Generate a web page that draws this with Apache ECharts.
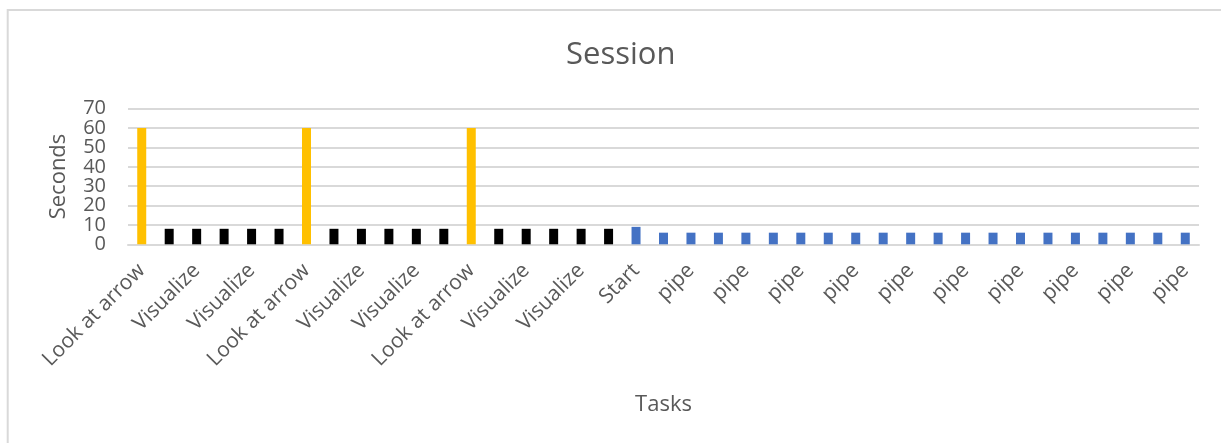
<!DOCTYPE html>
<html>
<head>
<meta charset="utf-8">
<script src="https://cdn.jsdelivr.net/npm/echarts@6/dist/echarts.min.js"></script>
<style>
  html, body { margin: 0; padding: 0; background: #ffffff; }
  #chart { width: 1221px; height: 443px; }
</style>
</head>
<body>
<div id="chart"></div>
<script>
// Task sequence of one session, in order
const tasks = [
  'Look at arrow', 'Visualize', 'Visualize', 'Visualize', 'Visualize', 'Visualize',
  'Look at arrow', 'Visualize', 'Visualize', 'Visualize', 'Visualize', 'Visualize',
  'Look at arrow', 'Visualize', 'Visualize', 'Visualize', 'Visualize', 'Visualize',
  'Start',
  'pipe', 'pipe', 'pipe', 'pipe', 'pipe', 'pipe', 'pipe', 'pipe', 'pipe', 'pipe',
  'pipe', 'pipe', 'pipe', 'pipe', 'pipe', 'pipe', 'pipe', 'pipe', 'pipe', 'pipe'
];

// Duration of each task in seconds
const seconds = [
  60, 8, 8, 8, 8, 8,
  60, 8, 8, 8, 8, 8,
  60, 8, 8, 8, 8, 8,
  9,
  6, 6, 6, 6, 6, 6, 6, 6, 6, 6,
  6, 6, 6, 6, 6, 6, 6, 6, 6, 6
];

// Value axis ticks
const yTicks = { min: 0, max: 70, step: 10 };

// Bar colour by task type
const taskColors = {
  'Look at arrow': '#FFC000',
  'Visualize': '#000000',
  'Start': '#4472C4',
  'pipe': '#4472C4'
};

const FONT = '"Open Sans", "Noto Sans", sans-serif';
const TEXT = '#595959';
const GRID = '#d9d9d9';

const isEnd = v => v === yTicks.min || v === yTicks.max;
const tickLabelStyle = { margin: 22, fontFamily: FONT, fontSize: 20, color: TEXT };

const chart = echarts.init(document.getElementById('chart'), null, { renderer: 'canvas' });

chart.setOption({
  backgroundColor: '#ffffff',
  animation: false,
  graphic: [{
    type: 'rect',
    silent: true,
    shape: { x: 7.7, y: 10, width: 1400, height: 600 },
    style: { fill: 'none', stroke: GRID, lineWidth: 2 }
  }],
  title: {
    text: 'Session',
    left: 561,
    top: 35,
    textStyle: { fontFamily: FONT, fontSize: 31, fontWeight: 'normal', color: TEXT }
  },
  grid: { left: 128, right: 22, top: 108.7, bottom: 198.7, containLabel: false },
  xAxis: {
    type: 'category',
    data: tasks,
    name: 'Tasks',
    nameLocation: 'middle',
    nameGap: 149,
    nameTextStyle: { fontFamily: FONT, fontSize: 22, color: TEXT },
    axisLine: { show: true, lineStyle: { color: GRID, width: 2 } },
    axisTick: { show: false },
    axisLabel: {
      interval: 1,
      rotate: 45,
      margin: 23,
      fontFamily: FONT,
      fontSize: 21,
      color: TEXT
    }
  },
  yAxis: [{
    // main value axis: grid lines, title and the inner tick labels
    type: 'value',
    min: yTicks.min,
    max: yTicks.max,
    interval: yTicks.step,
    name: 'Seconds',
    nameLocation: 'middle',
    nameRotate: 90,
    nameGap: 58,
    nameTextStyle: { fontFamily: FONT, fontSize: 22, color: TEXT },
    axisLine: { show: false },
    axisTick: { show: false },
    axisLabel: Object.assign({}, tickLabelStyle, {
      formatter: v => (isEnd(v) ? '' : String(v))
    }),
    splitLine: { lineStyle: { color: GRID, width: 2 } }
  }, {
    // same scale, carries the 0 and 70 labels
    type: 'value',
    position: 'left',
    min: yTicks.min,
    max: yTicks.max,
    interval: yTicks.step,
    axisLine: { show: false },
    axisTick: { show: false },
    splitLine: { show: false },
    axisLabel: Object.assign({}, tickLabelStyle, {
      showMinLabel: true,
      showMaxLabel: true,
      formatter: v => (isEnd(v) ? String(v) : '')
    })
  }],
  series: [{
    type: 'bar',
    yAxisIndex: 0,
    barWidth: 9,
    data: seconds.map((v, i) => ({
      value: v,
      itemStyle: { color: taskColors[tasks[i]] }
    }))
  }]
});
</script>
</body>
</html>
